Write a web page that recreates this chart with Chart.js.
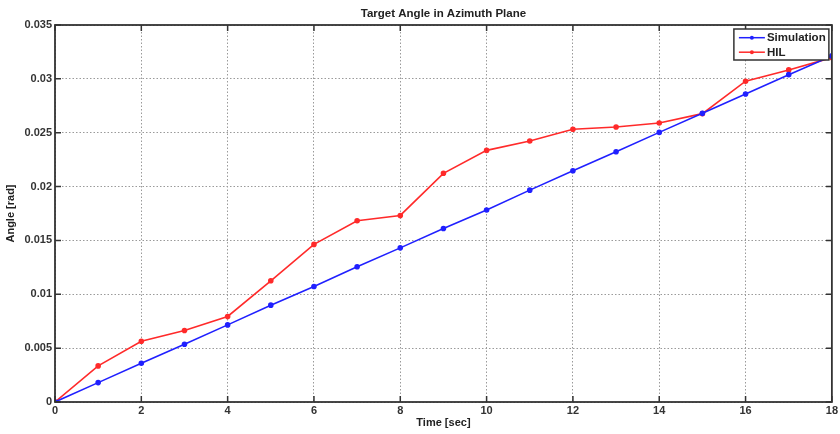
<!DOCTYPE html>
<html>
<head>
<meta charset="utf-8">
<script src="https://cdn.jsdelivr.net/npm/chart.js@4.4.1/dist/chart.umd.min.js"></script>
<style>
html,body{margin:0;padding:0;background:#fff;}
#wrap{width:840px;height:434px;position:relative;}
</style>
</head>
<body>
<div id="wrap"><canvas id="c" width="840" height="434"></canvas></div>
<script>
const timeSec = [0,1,2,3,4,5,6,7,8,9,10,11,12,13,14,15,16,17,18];
const simulation = [0,0.0018,0.0036,0.00536,0.00716,0.00899,0.01072,0.01255,0.01431,0.01611,0.01783,0.01967,0.02147,0.02323,0.02503,0.0268,0.0286,0.03039,0.03213];
const hil = [0,0.00335,0.00564,0.00664,0.00794,0.01125,0.01463,0.01682,0.01732,0.02123,0.02336,0.02423,0.02532,0.02553,0.0259,0.02677,0.02978,0.03083,0.03197];
const xTicks = [0,2,4,6,8,10,12,14,16,18];
const yTicks = [0,0.005,0.01,0.015,0.02,0.025,0.03,0.035];
const titleText = 'Target Angle in Azimuth Plane';
const xTitle = 'Time [sec]';
const yTitle = 'Angle [rad]';

const FONT = '"Liberation Sans", Arial, sans-serif';
const BLUE = '#2020ff';
const RED = '#ff2a2a';

const boxPlugin = {
  id: 'boxPlugin',
  afterDraw(chart) {
    const {ctx, chartArea: a, scales} = chart;
    ctx.save();
    // title centred over the plot area
    ctx.font = 'bold 11.5px ' + FONT;
    ctx.fillStyle = '#222';
    ctx.textAlign = 'center';
    ctx.textBaseline = 'middle';
    ctx.fillText(titleText, (a.left + a.right) / 2, 14);
    // inward ticks
    ctx.strokeStyle = '#333';
    ctx.lineWidth = 1.5;
    const L = 6;
    xTicks.forEach(v => {
      const px = scales.x.getPixelForValue(v);
      ctx.beginPath();
      ctx.moveTo(px, a.bottom); ctx.lineTo(px, a.bottom - L);
      ctx.moveTo(px, a.top); ctx.lineTo(px, a.top + L);
      ctx.stroke();
    });
    yTicks.forEach(v => {
      const py = scales.y.getPixelForValue(v);
      ctx.beginPath();
      ctx.moveTo(a.left, py); ctx.lineTo(a.left + L, py);
      ctx.moveTo(a.right, py); ctx.lineTo(a.right - L, py);
      ctx.stroke();
    });
    // box
    ctx.lineWidth = 1.8;
    ctx.strokeStyle = '#333';
    ctx.strokeRect(a.left, a.top, a.right - a.left, a.bottom - a.top);
    // legend
    const lx = a.right - 98, ly = a.top + 4, lw = 95, lh = 31;
    ctx.fillStyle = '#fff';
    ctx.fillRect(lx, ly, lw, lh);
    ctx.lineWidth = 1.5;
    ctx.strokeStyle = '#333';
    ctx.strokeRect(lx, ly, lw, lh);
    ctx.font = 'bold 11.5px ' + FONT;
    ctx.textBaseline = 'middle';
    ctx.textAlign = 'left';
    chart.data.datasets.forEach((ds, i) => {
      const cy = ly + 8.7 + i * 14.5;
      ctx.strokeStyle = ds.borderColor;
      ctx.lineWidth = 1.5;
      ctx.beginPath();
      ctx.moveTo(lx + 5, cy); ctx.lineTo(lx + 31, cy);
      ctx.stroke();
      ctx.fillStyle = ds.borderColor;
      ctx.beginPath();
      ctx.arc(lx + 18, cy, 2, 0, Math.PI * 2);
      ctx.fill();
      ctx.fillStyle = '#222';
      ctx.fillText(ds.label, lx + 33, cy + 0.5);
    });
    ctx.restore();
  }
};

new Chart(document.getElementById('c'), {
  type: 'line',
  data: {
    datasets: [
      {label: 'Simulation', data: timeSec.map((t, i) => ({x: t, y: simulation[i]})), borderColor: BLUE, backgroundColor: BLUE, borderWidth: 1.6, pointRadius: 2, pointHoverRadius: 2, tension: 0},
      {label: 'HIL', data: timeSec.map((t, i) => ({x: t, y: hil[i]})), borderColor: RED, backgroundColor: RED, borderWidth: 1.6, pointRadius: 2, pointHoverRadius: 2, tension: 0}
    ]
  },
  options: {
    responsive: false,
    animation: false,
    events: [],
    layout: {padding: {left: 0, right: 6, top: 25, bottom: 0}},
    plugins: {
      legend: {display: false},
      tooltip: {enabled: false},
      title: {display: false}
    },
    scales: {
      x: {
        type: 'linear', min: 0, max: 18,
        afterBuildTicks: s => { s.ticks = xTicks.map(v => ({value: v})); },
        afterFit: s => { s.height = 32; },
        ticks: {color: '#333', font: {family: FONT, size: 11, weight: 'bold'}, padding: 2, maxRotation: 0},
        grid: {color: '#9a9a9a', lineWidth: 1, drawTicks: false},
        border: {display: false, dash: [1.5, 2]},
        title: {display: true, text: xTitle, color: '#222', font: {family: FONT, size: 11, weight: 'bold'}, padding: {top: 0, bottom: 4}}
      },
      y: {
        type: 'linear', min: 0, max: 0.035,
        afterBuildTicks: s => { s.ticks = yTicks.map(v => ({value: v})); },
        afterFit: s => { s.width = 55; },
        ticks: {color: '#333', font: {family: FONT, size: 11, weight: 'bold'}, padding: 3, callback: v => String(+v.toFixed(3))},
        grid: {color: '#9a9a9a', lineWidth: 1, drawTicks: false},
        border: {display: false, dash: [1.5, 2]},
        title: {display: true, text: yTitle, color: '#222', font: {family: FONT, size: 11, weight: 'bold'}, padding: {top: 4, bottom: 2}}
      }
    }
  },
  plugins: [boxPlugin]
});
</script>
</body>
</html>
